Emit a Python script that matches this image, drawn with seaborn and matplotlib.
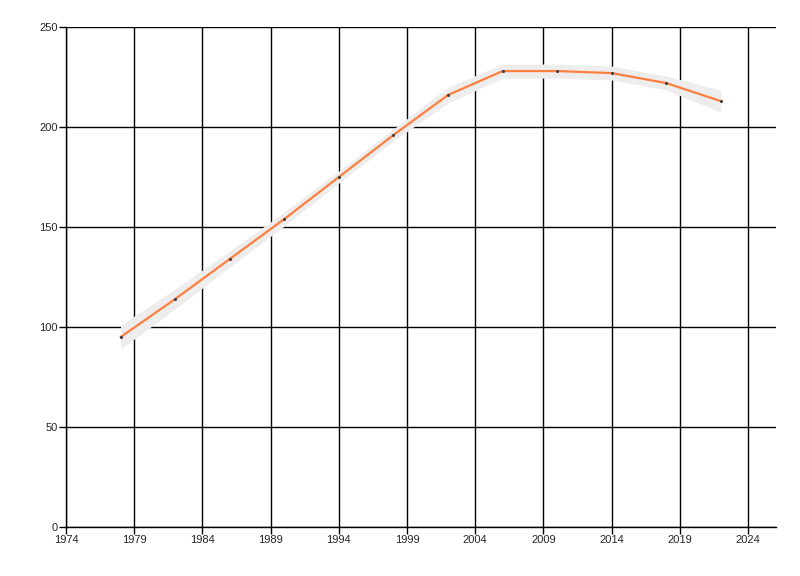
import matplotlib
matplotlib.use("Agg")
import matplotlib.pyplot as plt
import pandas as pd
import seaborn as sns

years = [1978, 1982, 1986, 1990, 1994, 1998, 2002, 2006, 2010, 2014, 2018, 2022]
values = [95, 114, 134, 154, 175, 196, 216, 228, 228, 227, 222, 213]
band_lower = [89, 109, 130, 150.5, 172, 193, 212, 224.5, 224.5, 223.5, 218.5, 207.5]
band_upper = [101, 119, 138, 157.5, 178, 199, 220, 231.5, 231.5, 230.5, 225.5, 218.5]

x_ticks = [1974, 1979, 1984, 1989, 1994, 1999, 2004, 2009, 2014, 2019, 2024]
y_ticks = [0, 50, 100, 150, 200, 250]

frame = pd.DataFrame({"year": years, "value": values})

sns.set_style("white")
plt.rcParams["font.family"] = ["Liberation Sans", "DejaVu Sans"]

fig = plt.figure(figsize=(8, 5.76), dpi=100)
ax = fig.add_axes([0.0825, 0.085, 0.8875, 0.868])

ax.fill_between(years, band_lower, band_upper, color="#ededed", linewidth=0, zorder=2)
sns.lineplot(data=frame, x="year", y="value", ax=ax, color="#ff7f3f", linewidth=1.6, zorder=3)
sns.scatterplot(data=frame, x="year", y="value", ax=ax, color="#404040", s=5, linewidth=0, zorder=4)

ax.set_xlim(1974, 2026.05)
ax.set_ylim(0, 250)
ax.set_xticks(x_ticks)
ax.set_yticks(y_ticks)
ax.grid(True, color="black", linewidth=1)
ax.set_axisbelow(True)
ax.set_xlabel("")
ax.set_ylabel("")

for side in ["top", "right"]:
    ax.spines[side].set_visible(False)
for side in ["left", "bottom"]:
    ax.spines[side].set_color("black")
    ax.spines[side].set_linewidth(1)

ax.tick_params(axis="both", which="both", direction="out", length=5, width=1,
               color="black", labelsize=8, pad=1, left=True, bottom=True)

fig.savefig("out.png", dpi=100)
